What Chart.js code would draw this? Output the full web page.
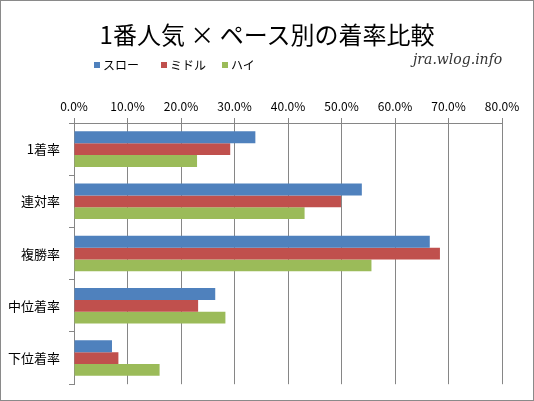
<!DOCTYPE html>
<html>
<head>
<meta charset="utf-8">
<script src="https://cdn.jsdelivr.net/npm/chart.js@4/dist/chart.umd.min.js"></script>
<style>
  body { margin: 0; background: #fff; }
  #wrap { position: relative; width: 534px; height: 401px; overflow: hidden; }
  #frame { position: absolute; left: 0; top: 0; width: 534px; height: 401px; box-sizing: border-box; border: 1px solid #8a8a8a; pointer-events: none; }
  #title { position: absolute; left: 0; width: 534px; top: 16px; text-align: center; font: 24px "Noto Sans CJK JP", sans-serif; color: #000; white-space: nowrap; }
  #legend { position: absolute; left: 94px; top: 56px; font: 12px "Noto Sans CJK JP", sans-serif; color: #000; white-space: nowrap; }
  #legend span { position: absolute; top: 0; line-height: 18px; }
  #legend i { position: absolute; top: 6px; width: 6px; height: 6px; }
  #mark { position: absolute; left: 413px; top: 51px; font: italic 14px "DejaVu Serif", serif; color: #333; white-space: nowrap; }
</style>
</head>
<body>
<div id="wrap">
  <canvas id="chart" width="534" height="401"></canvas>
  <div id="title">1番人気 × ペース別の着率比較</div>
  <div id="legend"></div>
  <div id="mark">jra.wlog.info</div>
  <div id="frame"></div>
</div>
<script>
const categories = ["1着率", "連対率", "複勝率", "中位着率", "下位着率"];
const seriesNames = ["スロー", "ミドル", "ハイ"];
const slow = [33.9, 53.8, 66.5, 26.4, 7.1];
const middle = [29.2, 49.9, 68.4, 23.2, 8.3];
const high = [23.0, 43.1, 55.6, 28.3, 16.0];
const xTickLabels = ["0.0%", "10.0%", "20.0%", "30.0%", "40.0%", "50.0%", "60.0%", "70.0%", "80.0%"];

const colors = ["#4F81BD", "#C0504D", "#9BBB59"];
const gridColor = "#868686";

// legend as html, positioned like the original
const legendX = [0, 67, 128];
const legend = document.getElementById("legend");
seriesNames.forEach((name, i) => {
  const box = document.createElement("i");
  box.style.left = legendX[i] + "px";
  box.style.background = colors[i];
  legend.appendChild(box);
  const txt = document.createElement("span");
  txt.style.left = legendX[i] + 9 + "px";
  txt.textContent = name;
  legend.appendChild(txt);
});

const ctx = document.getElementById("chart").getContext("2d");

new Chart(ctx, {
  type: "bar",
  data: {
    labels: categories,
    datasets: [slow, middle, high].map((d, i) => ({
      label: seriesNames[i],
      data: d,
      backgroundColor: colors[i],
      borderWidth: 0,
      categoryPercentage: 0.68,
      barPercentage: 1,
    })),
  },
  options: {
    indexAxis: "y",
    responsive: false,
    animation: false,
    layout: { padding: { left: 0, right: 32, top: 91, bottom: 14 } },
    scales: {
      x: {
        position: "top",
        min: 0,
        max: 80,
        afterFit: (s) => { s.height = 32; },
        afterBuildTicks: (s) => {
          s.ticks = xTickLabels.map((t, i) => ({ value: i * 10 }));
        },
        ticks: {
          padding: 4,
          maxRotation: 0,
          color: "#000",
          font: { family: "Noto Sans CJK JP", size: 12 },
          callback: (v, i) => xTickLabels[i],
        },
        grid: { color: gridColor, tickLength: 5, drawTicks: true },
        border: { color: gridColor },
      },
      y: {
        afterFit: (s) => { s.width = 74; },
        ticks: {
          padding: 9,
          color: "#000",
          font: { family: "Noto Sans CJK JP", size: 13 },
        },
        grid: { color: gridColor, drawOnChartArea: false, tickLength: 5, offset: true },
        border: { color: gridColor },
      },
    },
    plugins: {
      legend: { display: false },
      tooltip: { enabled: false },
    },
  },
});
</script>
</body>
</html>
